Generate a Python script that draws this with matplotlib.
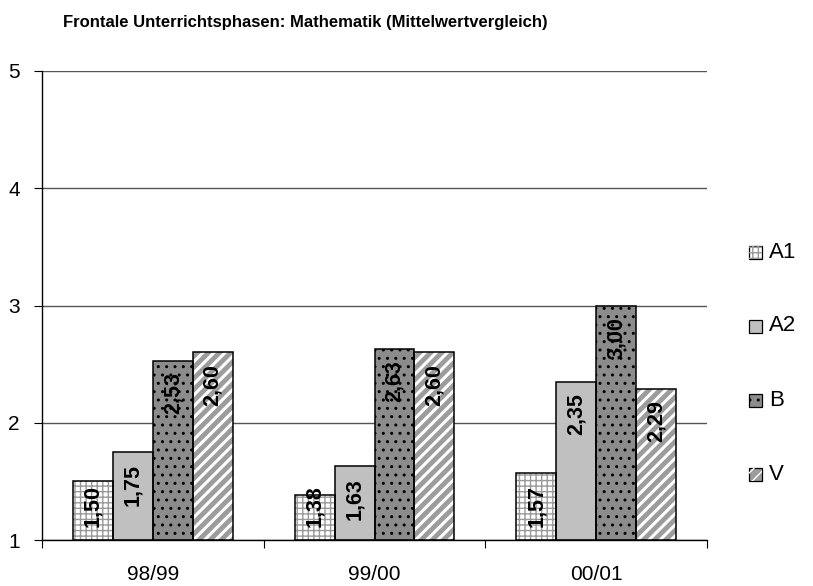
import numpy as np
import matplotlib.pyplot as plt

plt.rcParams['font.family'] = ['Liberation Sans', 'DejaVu Sans']

years = ['98/99', '99/00', '00/01']
series = ['A1', 'A2', 'B', 'V']
A1 = [1.50, 1.38, 1.57]
A2 = [1.75, 1.63, 2.35]
B = [2.53, 2.63, 3.00]
V = [2.60, 2.60, 2.29]
values = [A1, A2, B, V]

# face, hatch, hatch colour, hatch linewidth
styles = [
    ('white', '+++', '#9a9a9a', 1.0),
    ('#c0c0c0', None, None, 1.0),
    ('#8c8c8c', '..', 'black', 1.0),
    ('#9c9c9c', '///', 'white', 2.2),
]

fig = plt.figure(figsize=(8.13, 5.86), dpi=100)
ax = fig.add_axes([42 / 813, 1 - 540 / 586, 665 / 813, 469 / 586])

x = np.arange(len(years))
w = 0.18
offsets = (np.arange(4) - 1.5) * w

for vals, off, (fc, hatch, hc, hlw) in zip(values, offsets, styles):
    heights = np.array(vals) - 1
    ax.bar(x + off, heights, w, bottom=1, color=fc, edgecolor='none', zorder=2)
    if hatch:
        plt.rcParams['hatch.linewidth'] = hlw
        ax.bar(x + off, heights, w, bottom=1, color='none', edgecolor=hc,
               hatch=hatch, linewidth=0, zorder=3)
    ax.bar(x + off, heights, w, bottom=1, color='none', edgecolor='black',
           linewidth=1.1, zorder=4)
    for xi, v in zip(x + off, vals):
        # label sits just under the bar top, but not lower than the base allows
        ytop = max(v - 0.10, 1.47)
        ax.text(xi, ytop, f'{v:.2f}'.replace('.', ','), rotation=90,
                ha='center', va='top', fontsize=15.5, fontweight='bold', zorder=5)

ax.set_ylim(1, 5)
ax.set_xlim(-0.5, 2.5)
ax.set_yticks([1, 2, 3, 4, 5])
ax.set_yticklabels(['1', '2', '3', '4', '5'], fontsize=15)
ax.yaxis.grid(True, color='#555555', linewidth=1, zorder=0)
ax.set_axisbelow(True)

ax.set_xticks([-0.5, 0.5, 1.5, 2.5])
ax.set_xticklabels([])
ax.set_xticks(x, minor=True)
ax.set_xticklabels(years, minor=True, fontsize=15)
ax.tick_params(axis='x', which='minor', length=0, pad=18)
ax.tick_params(axis='x', which='major', length=6, direction='out')
ax.tick_params(axis='y', length=6, direction='out', pad=10)

for s in ['top', 'right']:
    ax.spines[s].set_visible(False)
ax.spines['left'].set_linewidth(1)
ax.spines['bottom'].set_linewidth(1)

# legend
leg_y = [252, 326, 400, 474]
plt.rcParams['hatch.linewidth'] = 1.0
for name, (fc, hatch, hc, hlw), yy in zip(series, styles, leg_y):
    yf = 1 - yy / 586
    fig.patches.append(plt.Rectangle((749 / 813, yf - 6.5 / 586), 13 / 813, 13 / 586,
                                     transform=fig.transFigure, facecolor=fc,
                                     edgecolor='black', linewidth=0.9))
    if hatch:
        fig.patches.append(plt.Rectangle((749 / 813, yf - 6.5 / 586), 13 / 813, 13 / 586,
                                         transform=fig.transFigure, facecolor='none',
                                         edgecolor=hc, linewidth=0, hatch=hatch))
    fig.text(769 / 813, yf, name, fontsize=16, va='center', ha='left')

fig.text(63 / 813, 1 - 22 / 586, 'Frontale Unterrichtsphasen: Mathematik (Mittelwertvergleich)',
         fontsize=12, fontweight='bold', va='center', ha='left')

fig.savefig('out.png', dpi=100)
